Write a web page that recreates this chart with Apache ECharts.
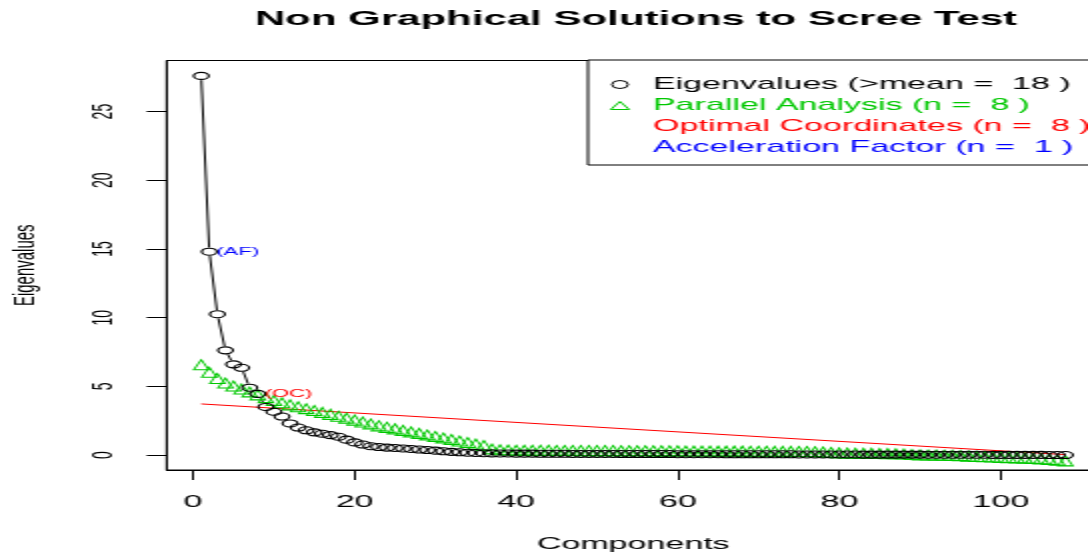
<!DOCTYPE html>
<html><head><meta charset="utf-8">
<script src="https://cdn.jsdelivr.net/npm/echarts@6/dist/echarts.min.js"></script>
<style>
html,body{margin:0;padding:0;background:#fff;overflow:hidden;}
#wrap{width:1088px;height:558px;overflow:hidden;position:relative;background:#fff;}
#chart{width:544px;height:558px;transform:scaleX(2);transform-origin:0 0;}
</style></head><body><div id="wrap"><div id="chart"></div></div>
<script>
// ---- data ----
const eigenvalues = [
  27.6, 14.8, 10.25, 7.62, 6.6, 6.35, 4.9, 4.45, 3.5, 3.15,
  2.8, 2.3, 2.0, 1.8, 1.65, 1.55, 1.45, 1.33, 1.12, 0.92,
  0.76, 0.64, 0.58, 0.54, 0.51, 0.48, 0.44, 0.4, 0.36, 0.32,
  0.27, 0.23, 0.2, 0.17, 0.15, 0.13, 0.12, 0.11, 0.11, 0.1,
  0.1, 0.1, 0.09, 0.09, 0.09, 0.09, 0.08, 0.08, 0.08, 0.08,
  0.08, 0.08, 0.07, 0.07, 0.07, 0.07, 0.07, 0.07, 0.07, 0.06,
  0.06, 0.06, 0.06, 0.06, 0.06, 0.05, 0.05, 0.05, 0.05, 0.05,
  0.05, 0.05, 0.05, 0.05, 0.04, 0.04, 0.04, 0.04, 0.04, 0.04,
  0.04, 0.04, 0.03, 0.03, 0.03, 0.03, 0.03, 0.03, 0.03, 0.03,
  0.02, 0.02, 0.02, 0.02, 0.02, 0.02, 0.02, 0.02, 0.01, 0.01,
  0.01, 0.01, 0.01, 0.01, 0.01, 0.0, 0.0, 0.0
];
const parallelAnalysis = [
  6.45, 5.9, 5.45, 5.12, 4.9, 4.68, 4.47, 4.26, 4.05, 3.85,
  3.68, 3.53, 3.39, 3.25, 3.12, 2.98, 2.84, 2.7, 2.56, 2.42,
  2.28, 2.14, 2.0, 1.89, 1.78, 1.67, 1.56, 1.45, 1.34, 1.23,
  1.12, 1.01, 0.9, 0.79, 0.68, 0.57, 0.32, 0.26, 0.24, 0.23,
  0.23, 0.22, 0.22, 0.22, 0.21, 0.21, 0.21, 0.2, 0.2, 0.2,
  0.2, 0.2, 0.19, 0.19, 0.19, 0.19, 0.18, 0.18, 0.18, 0.18,
  0.17, 0.17, 0.17, 0.17, 0.16, 0.16, 0.16, 0.16, 0.15, 0.15,
  0.15, 0.14, 0.14, 0.14, 0.13, 0.13, 0.12, 0.1, 0.06, 0.03,
  0.02, 0.01, 0.0, 0.0, -0.01, -0.02, -0.03, -0.05, -0.08, -0.11,
  -0.12, -0.13, -0.14, -0.15, -0.17, -0.2, -0.23, -0.25, -0.27, -0.29,
  -0.31, -0.33, -0.35, -0.37, -0.4, -0.44, -0.49, -0.55
];
const ocLineX = [1, 108];
const ocLineY = [3.72, 0.03];
const xTicks = [0, 20, 40, 60, 80, 100];
const yTicks = [0, 5, 10, 15, 20, 25];
const nOC = 8;          // "(OC)" label drawn beside this component
const afLabelAt = 2;    // "(AF)" label drawn beside this component
const legendNames = [
  'Eigenvalues (>mean =  18 )',
  'Parallel Analysis (n =  8 )',
  'Optimal Coordinates (n =  8 )',
  'Acceleration Factor (n =  1 )'
];
const titleText = 'Non Graphical Solutions to Scree Test';

// ---- build ----
const components = eigenvalues.map((_, i) => i + 1);
const eigPts = components.map((c, i) => [c, eigenvalues[i]]);
const paPts = components.map((c, i) => [c, parallelAnalysis[i]]);
const ocPts = ocLineX.map((x, i) => [x, ocLineY[i]]);

const FONT = "'Liberation Sans', Arial, Helvetica, sans-serif";
const GREEN = '#00C800', RED = '#FF0000', BLUE = '#0000FF';

const chart = echarts.init(document.getElementById('chart'), null, {renderer: 'canvas', width: 544, height: 558});
chart.setOption({
  animation: false,
  backgroundColor: '#fff',
  title: {
    text: titleText, left: 318, top: 9, padding: 0, textAlign: 'center',
    textStyle: {fontFamily: FONT, fontWeight: 'bold', fontSize: 21, color: '#000'}
  },
  grid: {
    left: 83.35, top: 60.5, width: 466.65, height: 409.5,
    show: true, borderColor: '#000', borderWidth: 1, backgroundColor: 'transparent',
    outerBoundsMode: 'none', containLabel: false
  },
  legend: {
    orient: 'vertical', left: 294, top: 60, z: 10,
    padding: [14, 14, 7, 4.5], itemGap: 0, itemWidth: 23, itemHeight: 8,
    symbolKeepAspect: true, selectedMode: false,
    borderColor: '#000', borderWidth: 1, borderRadius: 0, backgroundColor: '#fff',
    textStyle: {fontFamily: FONT, fontSize: 17, lineHeight: 21, color: '#000'},
    data: [
      {name: legendNames[0], icon: 'circle', itemStyle: {color: '#fff', borderColor: '#000', borderWidth: 1, opacity: 1}, textStyle: {color: '#000'}},
      {name: legendNames[1], icon: 'path://M5,0L10,8.66L0,8.66Z', itemStyle: {color: 'rgba(0,0,0,0)', borderColor: GREEN, borderWidth: 1, opacity: 1}, textStyle: {color: GREEN}},
      {name: legendNames[2], icon: 'none', textStyle: {color: RED}},
      {name: legendNames[3], icon: 'none', textStyle: {color: BLUE}}
    ]
  },
  xAxis: {
    type: 'value', min: -3.28, max: 112.28,
    axisLine: {show: true, onZero: false, lineStyle: {color: '#000', width: 1}},
    splitLine: {show: false},
    axisTick: {show: true, customValues: xTicks, length: 10, lineStyle: {color: '#000', width: 1}},
    axisLabel: {customValues: xTicks, margin: 24, fontSize: 17, fontFamily: FONT, color: '#000'},
    name: 'Components', nameLocation: 'middle', nameGap: 66,
    nameTextStyle: {fontSize: 17, fontFamily: FONT, color: '#000'}
  },
  yAxis: {
    type: 'value', min: -1.09, max: 28.72,
    axisLine: {show: true, onZero: false, lineStyle: {color: '#000', width: 1}},
    splitLine: {show: false},
    axisTick: {show: true, customValues: yTicks, length: 10, lineStyle: {color: '#000', width: 1}},
    axisLabel: {customValues: yTicks, rotate: 90, margin: 24, fontSize: 14, fontFamily: FONT, color: '#000'},
    name: 'Eigenvalues', nameLocation: 'middle', nameGap: 63, nameRotate: 90,
    nameTextStyle: {fontSize: 15, fontFamily: FONT, color: '#000'}
  },
  series: [
    {type: 'line', name: 'eigLine', data: eigPts, symbol: 'none', showSymbol: false, silent: true, z: 1,
     lineStyle: {color: '#000', width: 1, opacity: 1}},
    {type: 'scatter', name: 'eigMask', data: eigPts, symbol: 'circle', symbolSize: [9, 8.5], silent: true, z: 2,
     itemStyle: {color: '#fff', opacity: 1}},
    {type: 'line', name: legendNames[2], data: ocPts, symbol: 'none', showSymbol: false, silent: true, z: 3,
     color: RED, lineStyle: {color: RED, width: 1, opacity: 1}},
    {type: 'scatter', name: legendNames[1], data: paPts, symbol: 'triangle', symbolSize: [7.5, 10], symbolOffset: [0, -1.7],
     silent: true, z: 4, itemStyle: {color: 'rgba(0,0,0,0)', borderColor: GREEN, borderWidth: 1, opacity: 1}},
    {type: 'scatter', name: legendNames[0], data: eigPts, symbol: 'circle', symbolSize: [7.5, 7],
     silent: true, z: 4, itemStyle: {color: 'rgba(0,0,0,0)', borderColor: '#000', borderWidth: 1.1, opacity: 1}},
    {type: 'scatter', name: 'ocLabel', data: [[nOC, eigenvalues[nOC - 1]]], symbol: 'circle', symbolSize: 1,
     silent: true, z: 5, itemStyle: {color: 'rgba(0,0,0,0)', opacity: 1},
     label: {show: true, formatter: '(OC)', position: 'right', distance: 3, color: RED, fontSize: 11, fontFamily: FONT}},
    {type: 'scatter', name: legendNames[3], data: [[afLabelAt, eigenvalues[afLabelAt - 1]]], symbol: 'circle', symbolSize: 1,
     silent: true, z: 5, color: BLUE, itemStyle: {color: 'rgba(0,0,0,0)', opacity: 1},
     label: {show: true, formatter: '(AF)', position: 'right', distance: 3, color: BLUE, fontSize: 11, fontFamily: FONT}}
  ]
});
</script></body></html>
